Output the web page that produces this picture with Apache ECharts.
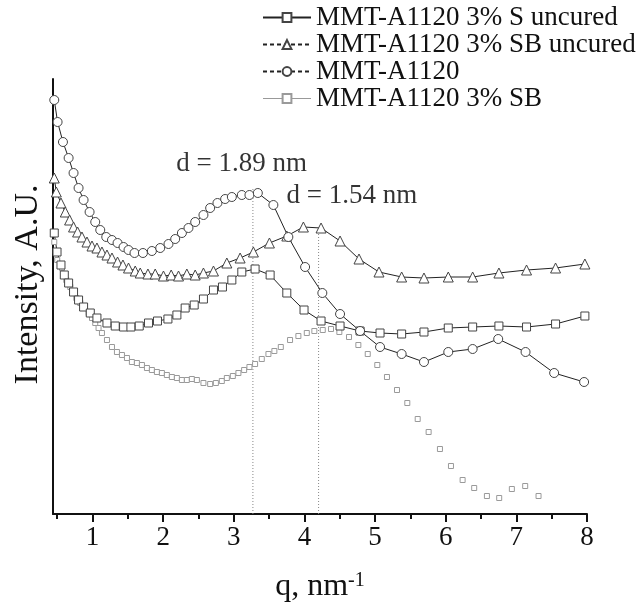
<!DOCTYPE html>
<html><head><meta charset="utf-8">
<script src="https://cdn.jsdelivr.net/npm/echarts@6/dist/echarts.min.js"></script>
<style>html,body{margin:0;padding:0;background:#fff}#c{width:642px;height:603px}</style>
</head><body><div id="c"></div>
<script>
const seriesNames = ['MMT-A1120 3% S uncured', 'MMT-A1120 3% SB uncured', 'MMT-A1120', 'MMT-A1120 3% SB'];
const majorTicks = [1, 2, 3, 4, 5, 6, 7, 8];
const minorTicks = [0.5, 1.5, 2.5, 3.5, 4.5, 5.5, 6.5, 7.5];

// MMT-A1120 3% S uncured (black squares)
const qS = [0.458,0.497,0.553,0.600,0.661,0.731,0.802,0.873,0.968,1.062,1.204,1.321,1.439,1.543,1.661,1.792,1.919,2.067,2.194,2.311,2.439,2.570,2.712,2.839,2.972,3.113,3.301,3.514,3.750,3.994,4.235,4.504,4.787,5.070,5.376,5.692,6.036,6.381,6.753,7.144,7.555,7.970];
const vS = [281,262,249,239,231,222,214,207,201,196,191,188,187,187,188,191,193,195,199,206,209,215,224,227,234,242,245,239,221,204,193,188,183,181,180,182,186,187,188,187,190,198];

// MMT-A1120 3% SB uncured (triangles)
const qSB = [0.458,0.487,0.553,0.614,0.675,0.731,0.788,0.850,0.921,0.992,1.062,1.133,1.204,1.275,1.354,1.430,1.509,1.604,1.675,1.784,1.887,2.004,2.113,2.217,2.335,2.453,2.570,2.712,2.901,3.089,3.277,3.504,3.750,3.985,4.235,4.504,4.772,5.055,5.376,5.692,6.036,6.381,6.753,7.144,7.555,7.970];
const vSB = [336,322,311,302,294,287,282,277,272,268,266,262,259,256,252,249,246,243,241,240,240,238,239,238,240,239,241,243,251,256,262,271,278,287,286,273,255,242,237,236,237,237,241,244,246,250];

// MMT-A1120 (circles)
const qA = [0.458,0.505,0.581,0.661,0.731,0.802,0.873,0.958,1.038,1.109,1.194,1.275,1.354,1.439,1.509,1.594,1.713,1.840,1.958,2.075,2.170,2.265,2.358,2.453,2.570,2.665,2.768,2.877,2.972,3.113,3.221,3.340,3.560,3.772,4.009,4.253,4.504,4.787,5.070,5.376,5.692,6.036,6.381,6.743,7.130,7.535,7.959];
const vA = [414,392,372,356,341,326,314,302,292,284,277,274,271,267,264,261,261,263,266,270,275,281,286,292,299,306,311,315,317,319,319,321,309,277,247,221,200,183,167,160,152,162,165,175,162,141,132];

// MMT-A1120 3% SB (small grey squares)
const qG = [0.458,0.480,0.500,0.567,0.628,0.685,0.731,0.770,0.826,0.883,0.944,0.992,1.038,1.085,1.133,1.204,1.275,1.345,1.416,1.487,1.557,1.628,1.699,1.770,1.840,1.911,1.982,2.052,2.123,2.194,2.265,2.335,2.406,2.477,2.570,2.665,2.746,2.830,2.901,2.986,3.065,3.146,3.221,3.301,3.396,3.490,3.574,3.665,3.796,3.914,4.033,4.140,4.259,4.376,4.494,4.631,4.763,4.896,5.031,5.168,5.310,5.456,5.603,5.758,5.918,6.074,6.239,6.403,6.583,6.757,6.936,7.125,7.314];
const vG = [272,263,254,246,234,227,221,216,211,206,201,196,191,186,181,174,167,162,159,156,152,151,149,146,144,142,141,139,137,136,134,134,135,134,131,130,131,133,136,138,141,144,147,150,155,160,163,167,174,178,181,183,184,185,182,177,169,160,149,137,124,111,95,82,65,48,34,26,18,16,25,28,18];

// d-spacing marker lines and annotations
const dLineQ = [3.27, 4.20];
const dLineTop = [327, 284];
const annoQ = [3.11, 4.67];
const annoV = [350, 318];
const annoText = ['d = 1.89 nm', 'd = 1.54 nm'];

const FONT = 'Liberation Serif';
const zip = (q, v) => q.map((x, i) => [x, v[i]]);

const chart = echarts.init(document.getElementById('c'));
const markerSeries = (name, q, v, symbol, size, border, lineW) => ({
  name, type: 'line', xAxisIndex: 0, data: zip(q, v),
  symbol, symbolSize: size, showAllSymbol: true,
  itemStyle: { color: '#fff', borderColor: border, borderWidth: 1 },
  lineStyle: { color: '#222', width: lineW },
  emphasis: { disabled: true }
});

const series = [
  markerSeries(seriesNames[3], qG, vG, 'rect', 5, '#9a9a9a', 0),
  markerSeries(seriesNames[0], qS, vS, 'rect', 8, '#444', 1),
  markerSeries(seriesNames[1], qSB, vSB, 'triangle', 10, '#444', 1),
  markerSeries(seriesNames[2], qA, vA, 'circle', 9, '#444', 1)
];
dLineQ.forEach((q, i) => series.push({
  type: 'line', xAxisIndex: 0, symbol: 'none', silent: true, z: 1,
  data: [[q, 0], [q, dLineTop[i]]],
  lineStyle: { color: '#888', width: 1, type: [1, 2] }
}));
series.push({
  type: 'scatter', xAxisIndex: 0, symbol: 'circle', symbolSize: 1, silent: true,
  itemStyle: { color: 'rgba(0,0,0,0)' },
  data: annoQ.map((q, i) => ({ value: [q, annoV[i]], name: annoText[i] })),
  label: { show: true, position: 'inside', formatter: p => p.name, fontSize: 27, fontFamily: FONT, color: '#000', textBorderWidth: 0 }
});

chart.setOption({
  animation: false,
  backgroundColor: '#fff',
  grid: { left: 53, right: 55, top: 79, bottom: 89, outerBoundsMode: 'none', containLabel: false },
  legend: {
    orient: 'vertical', left: 262, top: 4, padding: 0, itemWidth: 48, itemHeight: 11, itemGap: 0,
    textStyle: { fontSize: 27, fontFamily: FONT, color: '#111' },
    data: [
      { name: seriesNames[0], lineStyle: { type: 'solid' } },
      { name: seriesNames[1], lineStyle: { type: [4, 3] } },
      { name: seriesNames[2], lineStyle: { type: [4, 3] } },
      { name: seriesNames[3], lineStyle: { width: 1, color: '#999', type: 'solid' } }
    ]
  },
  xAxis: [
    {
      type: 'value', min: 0.44, max: 8, position: 'bottom',
      axisLine: { lineStyle: { color: '#111', width: 2 } },
      axisTick: { customValues: majorTicks, length: 8, lineStyle: { color: '#111', width: 2 } },
      axisLabel: { customValues: majorTicks, fontSize: 27, fontFamily: FONT, color: '#111', margin: 10 },
      splitLine: { show: false },
      name: 'q, nm{s|-1}', nameLocation: 'middle', nameGap: 57,
      nameTextStyle: { fontSize: 32, fontFamily: FONT, color: '#111', rich: { s: { fontSize: 20, fontFamily: FONT, color: '#111', verticalAlign: 'top' } } }
    },
    {
      type: 'value', min: 0.44, max: 8, position: 'bottom',
      axisLine: { show: false },
      axisTick: { customValues: minorTicks, length: 5, lineStyle: { color: '#111', width: 2 } },
      axisLabel: { show: false }, splitLine: { show: false }
    }
  ],
  yAxis: {
    type: 'value', min: 0, max: 435,
    axisLine: { show: true, lineStyle: { color: '#111', width: 2 } },
    axisTick: { show: false }, axisLabel: { show: false }, splitLine: { show: false },
    name: 'Intensity, A.U.', nameLocation: 'middle', nameGap: 8,
    nameTextStyle: { fontSize: 34, fontFamily: FONT, color: '#111', padding: [0, 0, 0, 24] }
  },
  series
});
</script></body></html>
